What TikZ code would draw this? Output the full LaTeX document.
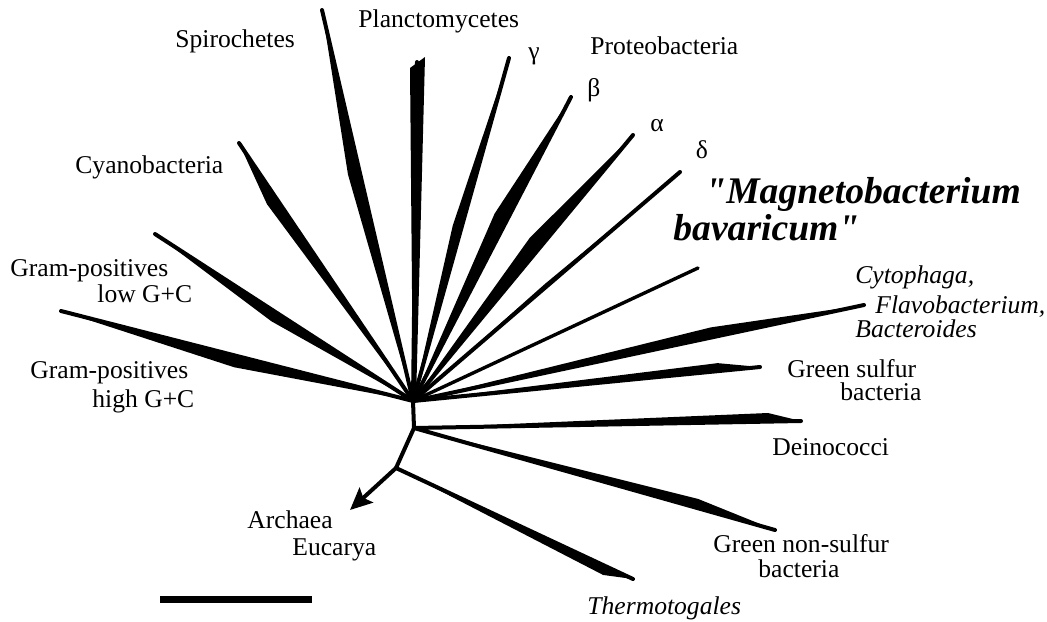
\documentclass[tikz,border=0pt]{standalone}
\usepackage{fontspec}
\setmainfont{Liberation Serif}
\newfontfamily\plainserif{Liberation Serif}
\usetikzlibrary{arrows.meta, positioning, calc}

\begin{document}
\begin{tikzpicture}[
  x=0.5pt, y=-0.5pt,
  font=\fontsize{12.8}{15}\selectfont,
  branch/.style={draw=black, line width=2pt, line cap=round},
  thinbranch/.style={branch, line width=1.7pt},
  clade/.style={fill=black},
  lbl/.style={anchor=base west, inner sep=0pt},
  taxon/.style={lbl, font=\fontsize{12.8}{15}\selectfont\itshape},
  greek/.style={inner sep=0pt},
  mb/.style={lbl, font=\plainserif\fontsize{18.8}{22}\selectfont\bfseries\itshape},
  arr/.style={-{Stealth[length=11pt, width=10pt, inset=2pt]}, line width=2pt},
  bar/.style={line width=3.5pt}]
\useasboundingbox (0,0) rectangle (1047,621);
% inner nodes
\coordinate (hub) at (413,401);
\coordinate (n2) at (414,428);
\coordinate (n3) at (396,468);
\coordinate (root) at (350,510);
% tips
\coordinate (spiro) at (322,10);
\coordinate (planL) at (410,68);
\coordinate (planR) at (425,57);
\coordinate (plan) at (417,62);
\coordinate (cyano) at (239,143);
\coordinate (lowgc) at (155,234);
\coordinate (highgc) at (61,311);
\coordinate (gamma) at (509,58);
\coordinate (beta) at (571,97);
\coordinate (alpha) at (633,135);
\coordinate (delta) at (680,172);
\coordinate (magneto) at (698,268);
\coordinate (cyto) at (864,305);
\coordinate (gsulf) at (760,367);
\coordinate (deino) at (801,421);
\coordinate (gnsulf) at (775,530);
\coordinate (thermo) at (633,579);

% clades
\fill[clade] (hub) -- ($(hub)!0.586!(spiro)!6pt!90:(spiro)$) -- (spiro) -- cycle;
\fill[clade] (413,401) -- (planL) -- (planR) -- (416,401) -- cycle;
\fill[clade] (hub) -- ($(hub)!0.787!(cyano)!5.5pt!90:(cyano)$) -- (cyano) -- cycle;
\fill[clade] (hub) -- ($(hub)!0.527!(lowgc)!5pt!90:(lowgc)$) -- (lowgc) -- cycle;
\fill[clade] (hub) -- ($(hub)!0.5!(highgc)!5.8pt!90:(highgc)$) -- (highgc) -- cycle;
\fill[clade] (hub) -- ($(hub)!0.504!(gamma)!4.5pt!90:(gamma)$) -- (gamma) -- cycle;
\fill[clade] (hub) -- ($(hub)!0.595!(beta)!7pt!90:(beta)$) -- (beta) -- cycle;
\fill[clade] (hub) -- ($(hub)!0.579!(alpha)!7pt!90:(alpha)$) -- (alpha) -- cycle;
\fill[clade] (hub) -- ($(hub)!0.5!(delta)!1.5pt!90:(delta)$) -- (delta) -- cycle;
\fill[clade] (hub) -- ($(hub)!0.665!(cyto)!5pt!90:(cyto)$) -- (cyto) -- cycle;
\fill[clade] (hub) -- ($(hub)!0.88!(gsulf)!4pt!90:(gsulf)$) -- (gsulf) -- cycle;
\fill[clade] (n2) -- ($(n2)!0.915!(deino)!4.3pt!90:(deino)$) -- (deino) -- cycle;
\fill[clade] (n2) -- ($(n2)!0.78!(gnsulf)!4.5pt!90:(gnsulf)$) -- (gnsulf) -- cycle;
\fill[clade] (n3) -- ($(n3)!0.89!(thermo)!4.5pt!-90:(thermo)$) -- (thermo) -- cycle;

% branches
\foreach \t in {spiro, plan, cyano, lowgc, highgc, gamma, beta, alpha, delta, cyto, gsulf}
  \draw[branch] (hub) -- (\t);
\draw[thinbranch] (hub) -- (magneto);
\draw[branch] (n2) -- (deino);
\draw[branch] (n2) -- (gnsulf);
\draw[branch] (n3) -- (thermo);
\draw[branch, line cap=butt, line join=round] (hub) -- (n2) -- (n3);
\draw[arr] (n3) -- (root);

% labels
\node[lbl] (lspiro) at (175,47) {Spirochetes};
\node[lbl] (lplan) at (358,27) {Planctomycetes};
\node[lbl] (lproteo) at (590,54) {Proteobacteria};
\node[greek] (lgamma) at (534,56) {γ};
\node[greek] (lbeta) at (594,90) {β};
\node[greek] (lalpha) at (657,126) {α};
\node[greek] (ldelta) at (702,150) {δ};
\node[lbl] (lcyano) at (75,173) {Cyanobacteria};
\node[lbl] (llow1) at (10,276) {Gram-positives};
\node[lbl] (llow2) at (97,302) {low G+C};
\node[lbl] (lhigh1) at (30,378) {Gram-positives};
\node[lbl] (lhigh2) at (92,407) {high G+C};
\node[mb] (lmb1) at (705,203) {"Magnetobacterium};
\node[mb] (lmb2) at (673,240) {bavaricum"};
\node[taxon] (lcyto1) at (855,283) {Cytophaga,};
\node[taxon] (lcyto2) at (875,313) {Flavobacterium,};
\node[taxon] (lcyto3) at (855,337) {Bacteroides};
\node[lbl] (lgs1) at (787,377) {Green sulfur};
\node[lbl] (lgs2) at (840,400) {bacteria};
\node[lbl] (ldeino) at (772,455) {Deinococci};
\node[lbl] (lgns1) at (713,552) {Green non-sulfur};
\node[lbl] (lgns2) at (758,577) {bacteria};
\node[taxon] (lthermo) at (587,614) {Thermotogales};
\node[lbl] (larch) at (247,528) {Archaea};
\node[lbl] (leuc) at (292,555) {Eucarya};

% scale bar
\coordinate (bar0) at (160,599);
\coordinate (bar1) at (312,599);
\draw[bar] (bar0) -- (bar1);
\end{tikzpicture}
\end{document}
